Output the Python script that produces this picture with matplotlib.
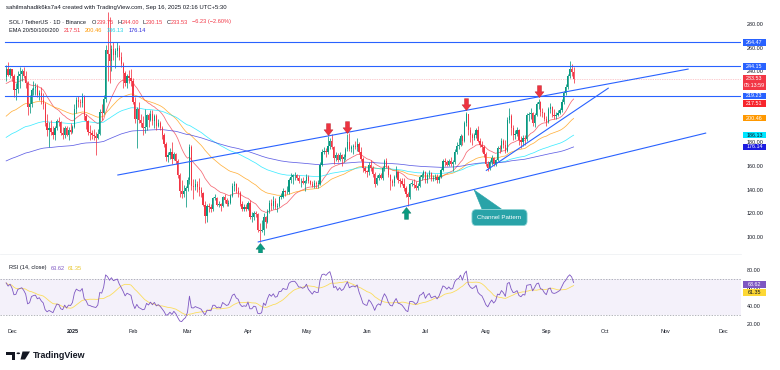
import numpy as np
import pandas as pd
import matplotlib
matplotlib.use("Agg")
import matplotlib.pyplot as plt
import matplotlib.dates as mdates
from matplotlib.path import Path
from matplotlib.patches import Rectangle, Polygon, Circle
from matplotlib.ticker import FormatStrFormatter

plt.rcParams['font.family'] = ['Liberation Sans', 'DejaVu Sans']

# SOL/USDT 1D candles, 2024-11-28 .. 2025-09-15 (open = previous close)
start_date = '2024-11-28'
first_open = 235.0
closes = [
    242, 237, 242,
    # Dec
    236, 224, 225, 236, 238, 240, 236, 230, 210, 212, 224, 226, 227, 220, 222, 216,
    212, 196, 190, 192, 189, 186, 192, 198, 197, 188, 186, 192, 186, 190, 189,
    # Jan
    193, 208, 216, 214, 213, 218, 202, 198, 189, 188, 186, 185, 184, 187, 206, 205,
    217, 258, 255, 249, 259, 254, 257, 260, 252, 246, 239, 230, 236, 234, 232,
    # Feb
    214, 200, 208, 199, 196, 192, 193, 203, 199, 204, 198, 202, 194, 196, 192, 186,
    179, 168, 169, 172, 166, 170, 164, 152, 139, 136, 139, 141,
    # Mar
    148, 176, 143, 142, 145, 142, 140, 137, 127, 118, 126, 125, 124, 133, 133, 127,
    128, 126, 134, 131, 128, 129, 135, 143, 145, 139, 137, 128, 124, 125, 124,
    # Apr
    129, 117, 117, 120, 119, 106, 105, 106, 117, 113, 122, 129, 126, 130, 125, 126,
    134, 134, 139, 138, 138, 148, 151, 152, 152, 150, 147, 147, 146, 147,
    # May
    151, 147, 145, 143, 146, 145, 145, 161, 172, 173, 172, 177, 181, 176, 167, 169,
    165, 169, 166, 168, 174, 180, 174, 176, 177, 176, 179, 172, 166, 158, 156,
    # Jun
    155, 161, 158, 153, 145, 150, 152, 150, 158, 164, 160, 152, 147, 146, 151, 155,
    148, 147, 145, 141, 136, 134, 145, 145, 144, 141, 143, 151, 152, 155,
    # Jul
    148, 152, 154, 149, 150, 151, 148, 151, 157, 164, 163, 161, 164, 162, 163, 172,
    177, 178, 185, 181, 196, 204, 190, 186, 184, 186, 190, 181, 178, 176, 170,
    # Aug
    162, 158, 163, 167, 162, 165, 175, 174, 181, 178, 173, 199, 202, 192, 186, 187,
    190, 182, 180, 184, 183, 203, 204, 205, 196, 203, 212, 214, 206, 205, 200,
    # Sep
    197, 208, 210, 203, 202, 203, 205, 207, 214, 222, 227, 236, 242, 239.75, 233.53,
]
highs = [
    245, 248, 243,
    242, 238, 230, 240, 244, 242, 244, 240, 232, 220, 226, 232, 230, 229, 224, 227,
    222, 214, 204, 197, 199, 194, 194, 200, 201, 198, 193, 194, 194, 193, 196,
    195, 212, 218, 219, 217, 222, 220, 204, 199, 195, 190, 191, 189, 191, 208, 212,
    220, 262, 290, 286, 262, 265, 260, 265, 262, 256, 248, 240, 238, 241, 242,
    234, 218, 210, 214, 204, 202, 208, 204, 205, 207, 207, 204, 204, 200, 198, 194,
    188, 180, 172, 175, 180, 172, 171, 166, 154, 148, 144, 143,
    151, 179, 178, 149, 149, 147, 150, 142, 138, 130, 128, 129, 128, 134, 136, 134,
    130, 129, 135, 136, 133, 131, 136, 146, 147, 146, 142, 139, 130, 128, 128,
    130, 131, 121, 122, 122, 120, 112, 114, 120, 118, 124, 131, 132, 135, 133, 129,
    135, 137, 141, 140, 143, 150, 154, 153, 155, 153, 152, 150, 151, 148,
    153, 152, 148, 147, 148, 147, 148, 163, 174, 176, 175, 185, 184, 187, 177, 172,
    171, 172, 170, 170, 176, 187, 188, 178, 179, 181, 184, 180, 176, 168, 160,
    157, 163, 165, 160, 155, 152, 154, 154, 160, 166, 167, 161, 153, 149, 152, 160,
    156, 150, 150, 150, 143, 138, 146, 148, 149, 147, 146, 152, 154, 157,
    156, 154, 157, 155, 152, 153, 153, 152, 158, 166, 167, 165, 166, 168, 165, 174,
    180, 184, 187, 186, 198, 206, 204, 193, 188, 188, 192, 194, 184, 181, 178,
    172, 164, 165, 169, 168, 166, 177, 178, 184, 183, 182, 201, 209, 204, 195, 190,
    193, 191, 185, 186, 186, 205, 206, 209, 206, 205, 214, 217, 215, 209, 206,
    202, 210, 213, 211, 208, 206, 207, 209, 217, 223, 229, 238, 249, 246, 244,
]
lows = [
    232, 236, 234,
    232, 218, 216, 222, 226, 232, 234, 226, 203, 205, 210, 220, 220, 218, 216, 212,
    208, 194, 185, 176, 186, 183, 182, 190, 194, 186, 183, 184, 185, 182, 187,
    188, 192, 205, 210, 210, 210, 199, 191, 186, 182, 183, 182, 169, 183, 186, 199,
    204, 214, 232, 230, 240, 250, 243, 252, 250, 244, 226, 228, 226, 230, 228,
    212, 196, 175, 196, 193, 186, 188, 190, 193, 198, 195, 192, 190, 193, 190, 183,
    176, 164, 163, 166, 162, 165, 162, 150, 134, 133, 134, 125,
    139, 145, 140, 132, 140, 138, 135, 134, 126, 112, 113, 121, 121, 122, 131, 126,
    125, 122, 125, 129, 126, 126, 128, 134, 139, 137, 134, 126, 122, 122, 122,
    123, 115, 113, 114, 117, 104, 96, 104, 102, 108, 112, 120, 123, 124, 124, 121,
    125, 132, 133, 135, 136, 136, 146, 145, 148, 148, 146, 142, 145, 139,
    146, 146, 144, 142, 141, 141, 141, 144, 160, 170, 168, 170, 174, 174, 162, 164,
    163, 164, 160, 163, 165, 173, 173, 172, 170, 174, 173, 170, 164, 155, 154,
    151, 152, 156, 151, 142, 144, 148, 149, 148, 156, 158, 151, 140, 143, 143, 150,
    146, 142, 144, 139, 134, 126, 132, 143, 141, 140, 140, 142, 148, 150,
    146, 146, 150, 147, 147, 148, 146, 146, 150, 156, 160, 160, 160, 160, 156, 162,
    170, 174, 177, 178, 180, 194, 186, 180, 178, 182, 184, 180, 176, 172, 168,
    160, 156, 157, 161, 160, 160, 164, 171, 173, 175, 171, 172, 196, 186, 182, 183,
    185, 178, 175, 177, 178, 181, 198, 200, 194, 193, 202, 208, 202, 201, 198,
    194, 196, 205, 201, 200, 200, 202, 204, 206, 212, 220, 225, 234, 236, 230.15,
]

# EMA 20/50/100/200: value at first candle and legend values
ema_lengths = [20, 50, 100, 200]
ema_seed = [228.5, 200.5, 183.0, 163.5]
ema_last = [217.51, 200.46, 186.13, 176.14]

# RSI(14) legend values and starting averages
rsi_last = 63.62
rsi_ma_last = 61.35
rsi_seed_gain, rsi_seed_loss = 4.25, 2.5

# drawings
levels = [264.47, 244.15, 219.23]
last_price = 233.53
channel_upper = [('2025-01-24', 152.3), ('2025-11-13', 242.0)]
channel_lower = [('2025-04-06', 95.7), ('2025-11-22', 187.9)]
support_line = [('2025-08-01', 156.0), ('2025-10-03', 226.0)]
sell_arrows = [('2025-05-12', 186.0), ('2025-05-22', 188.0), ('2025-07-22', 207.0), ('2025-08-28', 218.0)]
buy_arrows = [('2025-04-07', 95.0), ('2025-06-21', 125.0)]
callout_text = 'Channel Pattern'
callout_center = ('2025-08-08', 116.4)
callout_pointer = [('2025-07-26', 139.7), ('2025-07-30', 123.6), ('2025-08-09', 123.6)]
month_ticks = pd.date_range('2024-12-01', '2025-12-01', freq='MS')
month_labels = ['Dec', '2025', 'Feb', 'Mar', 'Apr', 'May', 'Jun', 'Jul', 'Aug',
                'Sep', 'Oct', 'Nov', 'Dec']

UP = '#089981'
DOWN = '#f23645'
BLUE = '#2962ff'
DARK = '#131722'
ema_colors = ['#f23645', '#ff9800', '#00e5ff', '#2b2bdc']
ema_tag_colors = ['#f7262c', '#ff9800', '#00e5ff', '#1c1ce0']
ema_text_colors = ['white', 'white', DARK, 'white']
legend_colors = ['#f23645', '#ff9800', '#1fd3e6', '#2b2bdc']


def ema(values, length, seed):
    a = 2.0 / (length + 1)
    out = np.empty(len(values))
    prev = seed
    for i, v in enumerate(values):
        prev = a * v + (1 - a) * prev
        out[i] = prev
    return out


def rsi(values, first, length=14):
    diffs = np.diff(np.r_[first, values])
    g, lo = rsi_seed_gain, rsi_seed_loss
    out = np.empty(len(diffs))
    for i, v in enumerate(diffs):
        g = (g * (length - 1) + max(v, 0)) / length
        lo = (lo * (length - 1) + max(-v, 0)) / length
        out[i] = 100 - 100 / (1 + g / lo)
    return out


def dnum(s):
    return mdates.date2num(pd.Timestamp(s))


dates = pd.date_range(start_date, periods=len(closes), freq='D')
x = mdates.date2num(dates)
c = np.array(closes, float)
o = np.r_[first_open, c[:-1]]
h = np.maximum(np.array(highs, float), np.maximum(o, c))
l = np.minimum(np.array(lows, float), np.minimum(o, c))
col = np.where(c >= o, UP, DOWN)

W, H = 780, 370
fig = plt.figure(figsize=(W / 100, H / 100), dpi=100)
fig.patch.set_facecolor('white')


def fx(px):
    return px / W


def fy(py):
    return 1 - py / H


PLOT_R = 741
ax = fig.add_axes([0, fy(252), fx(PLOT_R), 252 / H])
rax = fig.add_axes([0, fy(328), fx(PLOT_R), (328 - 256) / H], sharex=ax)

d0 = dnum('2024-12-01')
ax.set_xlim(d0 - 12 / 1.95, d0 + (PLOT_R - 12) / 1.95)
ax.set_ylim(87.3, 300.3)
rax.set_ylim(15.6, 95.6)

for a in (ax, rax):
    for s in a.spines.values():
        s.set_visible(False)
    a.yaxis.tick_right()
    a.yaxis.set_major_formatter(FormatStrFormatter('%.2f'))
    a.tick_params(axis='y', length=0, pad=4.3, labelsize=3.9, labelcolor=DARK)
    a.tick_params(axis='x', length=0, labelbottom=False)
    a.set_facecolor('white')

ax.set_yticks(np.arange(100, 281, 20))
rax.set_yticks([20, 40, 60, 80])
rax.set_xticks([])

# month labels under the RSI pane
for d, lab in zip(month_ticks, month_labels):
    rax.text(mdates.date2num(d), -0.055, lab, transform=rax.get_xaxis_transform(),
             ha='center', va='center', fontsize=3.9, color=DARK, clip_on=False,
             fontweight='bold' if lab == '2025' else 'normal')

# EMAs
for n, seed, cl in zip(ema_lengths, ema_seed, ema_colors):
    ax.plot(x, ema(c, n, seed), color=cl, lw=0.55, alpha=0.75, zorder=1)

# candles
ax.vlines(x, l, h, colors=col, lw=0.55, zorder=2)
ax.bar(x, np.maximum(np.abs(c - o), 0.4), bottom=np.minimum(o, c), width=0.62,
       color=col, linewidth=0, zorder=2)

# horizontal levels and last price line
for lv in levels:
    ax.axhline(lv, xmin=5 / PLOT_R, color=BLUE, lw=0.8, zorder=3)
ax.axhline(last_price, color=DOWN, lw=0.5, ls=(0, (1, 1.5)), alpha=0.5, zorder=1)

for line in (channel_upper, channel_lower, support_line):
    ax.plot([dnum(d) for d, _ in line], [p for _, p in line], color=BLUE, lw=0.8,
            zorder=3, solid_capstyle='butt')

# arrows
hw, sw = 0.38, 0.17
down_path = Path([(0, 0), (-hw, 0.48), (-sw, 0.48), (-sw, 1), (sw, 1), (sw, 0.48),
                  (hw, 0.48), (0, 0)], closed=True)
up_path = Path([(vx, -vy) for vx, vy in down_path.vertices], closed=True)
ax.plot([dnum(d) for d, _ in sell_arrows], [p for _, p in sell_arrows], ls='none',
        marker=down_path, ms=17, color='#ee3340', mec='#b81d28', mew=0.3, zorder=4)
ax.plot([dnum(d) for d, _ in buy_arrows], [p for _, p in buy_arrows], ls='none',
        marker=up_path, ms=17, color='#0a9a80', mec='#067560', mew=0.3, zorder=4)

# callout
ax.add_patch(Polygon([(dnum(d), p) for d, p in callout_pointer], closed=True,
                     fc='#29a3a8', ec='#29a3a8', lw=0.4, zorder=5))
ax.text(dnum(callout_center[0]), callout_center[1], callout_text, ha='center',
        va='center', color='white', fontsize=4.4, zorder=6,
        bbox=dict(boxstyle='round,pad=0.9,rounding_size=0.7', fc='#29a3a8',
                  ec='#8ad2d4', lw=0.6))

# RSI pane
r = rsi(c, first_open)
r_ma = pd.Series(r).rolling(14, min_periods=1).mean().to_numpy()
rax.axhspan(30, 70, color='#7e57c2', alpha=0.08, lw=0, zorder=0)
for lv in (70, 30):
    rax.axhline(lv, color='#9598a1', lw=0.5, ls=(0, (2, 2)), zorder=1)
rax.plot(x, r_ma, color='#fdd835', lw=0.6, alpha=0.8, zorder=2)
rax.plot(x, r, color='#7e57c2', lw=0.6, zorder=3)

# separator between panes
fig.add_artist(plt.Line2D([0, fx(PLOT_R)], [fy(254), fy(254)], color='#eceef2', lw=0.5))


# price scale tags
def tag(a, y, text, fc, tc, h_units, above=0.5):
    a.add_patch(Rectangle((1 + 2 / PLOT_R, y - h_units * (1 - above)), 23 / PLOT_R,
                          h_units, transform=a.get_yaxis_transform(), fc=fc, ec='none',
                          clip_on=False, zorder=6))
    a.text(1 + 13.5 / PLOT_R, y, text, transform=a.get_yaxis_transform(), ha='center',
           va='center', fontsize=3.9, color=tc, zorder=7, clip_on=False)


main_unit = 213 / 252  # price per pixel
tags = [(lv, BLUE, 'white') for lv in levels]
tags += list(zip(ema_last, ema_tag_colors, ema_text_colors))
tags.sort(key=lambda t: -t[0])
prev_bottom = None
for val, fc, tc in tags:
    y = val
    if prev_bottom is not None and prev_bottom - y < 4.2 * main_unit:
        y = prev_bottom - 4.2 * main_unit
    tag(ax, y, f'{val:.2f}', fc, tc, 6.6 * main_unit)
    prev_bottom = y - 3.5 * main_unit

# current price tag (two lines)
ax.add_patch(Rectangle((1 + 2 / PLOT_R, last_price - 11 * main_unit), 23 / PLOT_R,
                       14.5 * main_unit, transform=ax.get_yaxis_transform(),
                       fc=DOWN, ec='none', clip_on=False, zorder=6))
ax.text(1 + 13.5 / PLOT_R, last_price, f'{last_price:.2f}',
        transform=ax.get_yaxis_transform(), ha='center', va='center', fontsize=3.9,
        color='white', zorder=7, clip_on=False)
ax.text(1 + 13.5 / PLOT_R, last_price - 7 * main_unit, '05:13:59',
        transform=ax.get_yaxis_transform(), ha='center', va='center', fontsize=3.9,
        color='white', zorder=7, clip_on=False)

rsi_unit = 80 / 72
tag(rax, rsi_last, f'{rsi_last:.2f}', '#7e57c2', 'white', 6.6 * rsi_unit)
tag(rax, rsi_last - 7.6 * rsi_unit, f'{rsi_ma_last:.2f}', '#fdd835', DARK, 6.6 * rsi_unit)

# legends / header
renderer = fig.canvas.get_renderer()


def chain(px, py, parts, size=4.1):
    cur = px
    for s, cl, gap in parts:
        t = fig.text(fx(cur + gap), fy(py), s, color=cl, fontsize=size, ha='left',
                     va='center', zorder=10)
        cur = t.get_window_extent(renderer=renderer).x1


chain(6, 7, [('sahilmahadik6ks7a4 created with TradingView.com, Sep 16, 2025 02:16 UTC+5:30',
              DARK, 0)], size=4.3)
chain(9, 22, [('SOL / TetherUS · 1D · Binance', DARK, 0),
              ('O', DARK, 5.5), ('239.75', DOWN, 0.4),
              ('H', DARK, 3.5), ('244.00', DOWN, 0.4),
              ('L', DARK, 3.5), ('230.15', DOWN, 0.4),
              ('C', DARK, 3.5), ('233.53', DOWN, 0.4),
              ('−6.23 (−2.60%)', DOWN, 3.5)])
chain(9, 31, [('EMA 20/50/100/200', DARK, 0)] +
      [(f'{v:.2f}', cl, 4.5) for v, cl in zip(ema_last, legend_colors)])
chain(9, 268, [('RSI (14, close)', DARK, 0), (f'{rsi_last:.2f}', '#7e57c2', 4),
               (f'{rsi_ma_last:.2f}', '#e8c62a', 3.5)])


# TradingView logo (T, dot, slash) and wordmark
def fig_poly(pts, **kw):
    fig.add_artist(Polygon([(fx(px), fy(py)) for px, py in pts], closed=True,
                           transform=fig.transFigure, **kw))


fig_poly([(6, 351.5), (15.5, 351.5), (15.5, 359.5), (11.5, 359.5), (11.5, 355),
          (6, 355)], fc=DARK, ec='none')
fig.add_artist(Circle((fx(18.3), fy(353.3)), 1.8 / W, transform=fig.transFigure,
                      fc=DARK, ec='none'))
fig_poly([(22.5, 351.5), (30, 351.5), (25, 359.5), (20.5, 359.5)], fc=DARK, ec='none')
fig.text(fx(33), fy(355.5), 'TradingView', fontsize=6.4, fontweight='bold', color=DARK,
         ha='left', va='center')

fig.savefig('out.png', dpi=100)
